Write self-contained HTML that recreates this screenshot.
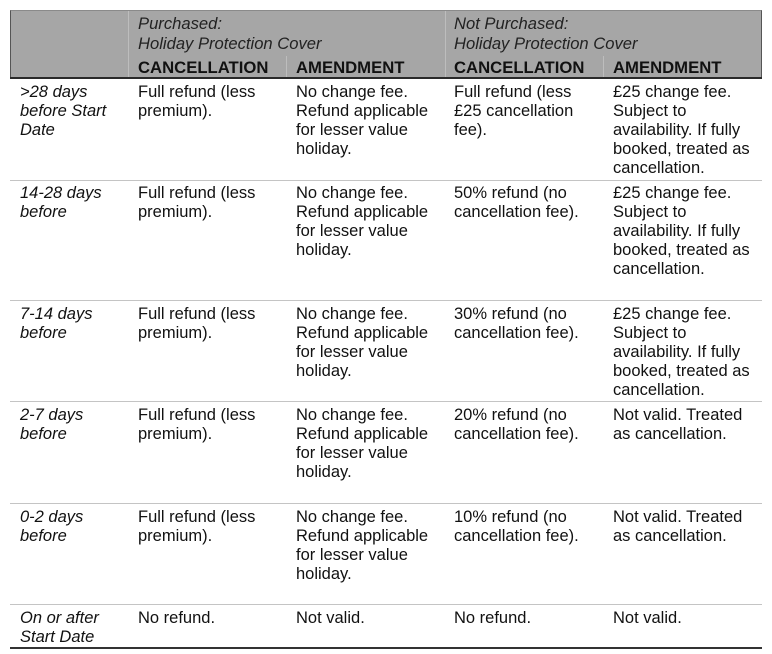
<!DOCTYPE html>
<html>
<head>
<meta charset="utf-8">
<style>
  html, body { margin:0; padding:0; background:#fff; }
  body { width:772px; height:654px; position:relative; overflow:hidden;
         font-family:"Liberation Sans", Arial, sans-serif; font-size:16.5px; color:#111; }
  .hdr { position:absolute; left:10px; top:10px; width:752px; height:68px; background:#a6a6a6;
         border-top:1px solid #8a8a8a; border-left:1px solid #555; border-right:1px solid #555; box-sizing:border-box; }
  .hb { position:absolute; left:10px; top:77px; width:752px; height:2px; background:#2a2a2a; }
  .vd { position:absolute; width:1px; background:#bdbdbd; }
  .sep { position:absolute; left:10px; width:752px; height:1px; background:#c4c4c4; }
  .bot { position:absolute; left:10px; top:647px; width:752px; height:2px; background:#333; }
  .t { position:absolute; line-height:19px; white-space:nowrap; }
  .i { font-style:italic; }
  .b { font-weight:bold; color:#111; font-size:16.7px; }
  .hi { font-style:italic; color:#222; font-size:16.6px; }
</style>
</head>
<body>
<div class="hdr"></div>
<div class="vd" style="left:128px;top:11px;height:66px;"></div>
<div class="vd" style="left:445px;top:11px;height:66px;"></div>
<div class="vd" style="left:286px;top:56px;height:21px;"></div>
<div class="vd" style="left:603px;top:56px;height:21px;"></div>
<div class="hb"></div>

<div class="t hi" style="left:138px;top:14px;line-height:20px;">Purchased:<br>Holiday Protection Cover</div>
<div class="t hi" style="left:454px;top:14px;line-height:20px;">Not Purchased:<br>Holiday Protection Cover</div>
<div class="t b" style="left:138px;top:58px;">CANCELLATION</div>
<div class="t b" style="left:296px;top:58px;">AMENDMENT</div>
<div class="t b" style="left:454px;top:58px;">CANCELLATION</div>
<div class="t b" style="left:613px;top:58px;">AMENDMENT</div>

<!-- Row 1 -->
<div class="t i" style="left:20px;top:83px;">&gt;28 days<br>before Start<br>Date</div>
<div class="t" style="left:138px;top:83px;">Full refund (less<br>premium).</div>
<div class="t" style="left:296px;top:83px;">No change fee.<br>Refund applicable<br>for lesser value<br>holiday.</div>
<div class="t" style="left:454px;top:83px;">Full refund (less<br>£25 cancellation<br>fee).</div>
<div class="t" style="left:613px;top:83px;">£25 change fee.<br>Subject to<br>availability. If fully<br>booked, treated as<br>cancellation.</div>
<div class="sep" style="top:180px;"></div>

<!-- Row 2 -->
<div class="t i" style="left:20px;top:184px;">14-28 days<br>before</div>
<div class="t" style="left:138px;top:184px;">Full refund (less<br>premium).</div>
<div class="t" style="left:296px;top:184px;">No change fee.<br>Refund applicable<br>for lesser value<br>holiday.</div>
<div class="t" style="left:454px;top:184px;">50% refund (no<br>cancellation fee).</div>
<div class="t" style="left:613px;top:184px;">£25 change fee.<br>Subject to<br>availability. If fully<br>booked, treated as<br>cancellation.</div>
<div class="sep" style="top:300px;"></div>

<!-- Row 3 -->
<div class="t i" style="left:20px;top:305px;">7-14 days<br>before</div>
<div class="t" style="left:138px;top:305px;">Full refund (less<br>premium).</div>
<div class="t" style="left:296px;top:305px;">No change fee.<br>Refund applicable<br>for lesser value<br>holiday.</div>
<div class="t" style="left:454px;top:305px;">30% refund (no<br>cancellation fee).</div>
<div class="t" style="left:613px;top:305px;">£25 change fee.<br>Subject to<br>availability. If fully<br>booked, treated as<br>cancellation.</div>
<div class="sep" style="top:401px;"></div>

<!-- Row 4 -->
<div class="t i" style="left:20px;top:406px;">2-7 days<br>before</div>
<div class="t" style="left:138px;top:406px;">Full refund (less<br>premium).</div>
<div class="t" style="left:296px;top:406px;">No change fee.<br>Refund applicable<br>for lesser value<br>holiday.</div>
<div class="t" style="left:454px;top:406px;">20% refund (no<br>cancellation fee).</div>
<div class="t" style="left:613px;top:406px;">Not valid. Treated<br>as cancellation.</div>
<div class="sep" style="top:503px;"></div>

<!-- Row 5 -->
<div class="t i" style="left:20px;top:508px;">0-2 days<br>before</div>
<div class="t" style="left:138px;top:508px;">Full refund (less<br>premium).</div>
<div class="t" style="left:296px;top:508px;">No change fee.<br>Refund applicable<br>for lesser value<br>holiday.</div>
<div class="t" style="left:454px;top:508px;">10% refund (no<br>cancellation fee).</div>
<div class="t" style="left:613px;top:508px;">Not valid. Treated<br>as cancellation.</div>
<div class="sep" style="top:604px;"></div>

<!-- Row 6 -->
<div class="t i" style="left:20px;top:609px;">On or after<br>Start Date</div>
<div class="t" style="left:138px;top:609px;">No refund.</div>
<div class="t" style="left:296px;top:609px;">Not valid.</div>
<div class="t" style="left:454px;top:609px;">No refund.</div>
<div class="t" style="left:613px;top:609px;">Not valid.</div>
<div class="bot"></div>
</body>
</html>
